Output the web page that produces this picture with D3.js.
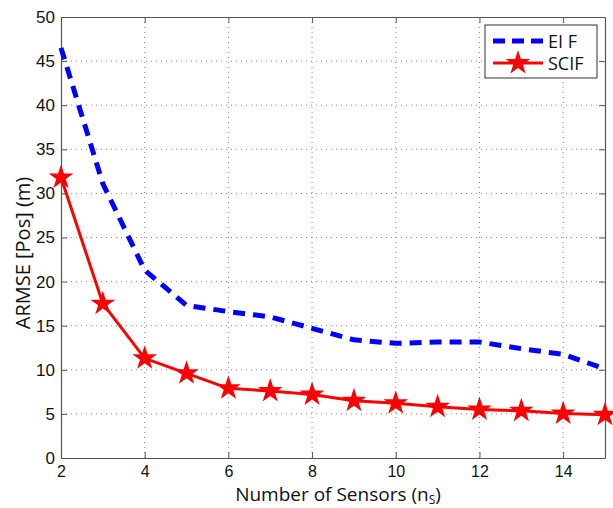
<!DOCTYPE html>
<html>
<head>
<meta charset="utf-8">
<script src="https://cdn.jsdelivr.net/npm/d3@7"></script>
<style>
  body { margin: 0; background: #fff; }
  svg { display: block; }
</style>
</head>
<body>
<div id="graph"></div>
<script>
const width = 613, height = 508;
const margin = {top: 17, right: 8, bottom: 50, left: 61};

const sensors = [2, 3, 4, 5, 6, 7, 8, 9, 10, 11, 12, 13, 14, 15];
const eifValues = [46.5, 31.1, 21.3, 17.3, 16.6, 16.0, 14.7, 13.4, 13.0, 13.15, 13.15, 12.4, 11.75, 10.1];
const scifValues = [31.8, 17.5, 11.3, 9.6, 7.9, 7.6, 7.2, 6.5, 6.2, 5.8, 5.5, 5.35, 5.05, 4.9];
const xTicks = [2, 4, 6, 8, 10, 12, 14];
const yTicks = [0, 5, 10, 15, 20, 25, 30, 35, 40, 45, 50];

const x = d3.scaleLinear().domain([2, 15]).range([margin.left, width - margin.right]);
const y = d3.scaleLinear().domain([0, 50]).range([height - margin.bottom, margin.top]);

const svg = d3.select("#graph")
  .append("svg")
  .attr("width", width)
  .attr("height", height)
  .style("font-family", "'Open Sans', sans-serif");

const axisColor = "#555";

// grid
svg.append("g").selectAll("line")
  .data(xTicks.slice(1))
  .join("line")
  .attr("x1", d => x(d)).attr("x2", d => x(d))
  .attr("y1", y(0)).attr("y2", y(50))
  .attr("stroke", "#888").attr("stroke-width", 1)
  .attr("stroke-dasharray", "1,4");
svg.append("g").selectAll("line")
  .data(yTicks.slice(1, -1))
  .join("line")
  .attr("x1", x(2)).attr("x2", x(15))
  .attr("y1", d => y(d)).attr("y2", d => y(d))
  .attr("stroke", "#888").attr("stroke-width", 1)
  .attr("stroke-dasharray", "1,4");

// axes (ticks inside, MATLAB style)
const xAxis = svg.append("g")
  .attr("transform", `translate(0,${y(0)})`)
  .call(d3.axisBottom(x).tickValues(xTicks).tickSizeInner(-6).tickSizeOuter(0).tickPadding(8));
const xTop = svg.append("g")
  .attr("transform", `translate(0,${y(50)})`)
  .call(d3.axisTop(x).tickValues(xTicks).tickSizeInner(-6).tickSizeOuter(0).tickFormat(""));
const yAxis = svg.append("g")
  .attr("transform", `translate(${x(2)},0)`)
  .call(d3.axisLeft(y).tickValues(yTicks).tickSizeInner(-6).tickSizeOuter(0).tickPadding(6));
const yRight = svg.append("g")
  .attr("transform", `translate(${x(15)},0)`)
  .call(d3.axisRight(y).tickValues(yTicks).tickSizeInner(-6).tickSizeOuter(0).tickFormat(""));

[xAxis, xTop, yAxis, yRight].forEach(g => {
  g.selectAll("path").attr("stroke", axisColor).attr("stroke-width", 1.2);
  g.selectAll("line").attr("stroke", axisColor);
  g.selectAll("text").attr("fill", "#111").style("font-size", "17px");
});
xAxis.selectAll("text").style("font-size", "16px");

// lines
const line = (vals) => d3.line()
  .x((d, i) => x(sensors[i]))
  .y(d => y(d))(vals);

svg.append("path")
  .attr("d", line(eifValues))
  .attr("fill", "none")
  .attr("stroke", "#0000ff")
  .attr("stroke-width", 5)
  .attr("stroke-dasharray", "12,8");

svg.append("path")
  .attr("d", line(scifValues))
  .attr("fill", "none")
  .attr("stroke", "#ff0000")
  .attr("stroke-width", 3);

const star = d3.symbol().type(d3.symbolStar).size(190);
svg.append("g").selectAll("path")
  .data(scifValues)
  .join("path")
  .attr("d", star)
  .attr("transform", (d, i) => `translate(${x(sensors[i])},${y(d)})`)
  .attr("fill", "#ff0000");

// axis labels
const xl = svg.append("text")
  .attr("x", 338)
  .attr("y", 501)
  .attr("text-anchor", "middle")
  .style("font-size", "19px")
  .attr("fill", "#111");
xl.append("tspan").text("Number of Sensors (n");
xl.append("tspan").attr("dy", 3).style("font-size", "12px").text("S");
xl.append("tspan").attr("dy", -3).text(")");

svg.append("text")
  .attr("transform", `translate(30,253) rotate(-90)`)
  .attr("text-anchor", "middle")
  .style("font-size", "20px")
  .attr("fill", "#111")
  .text("ARMSE [Pos] (m)");

// legend
const legend = svg.append("g").attr("transform", "translate(485,25)");
legend.append("rect")
  .attr("width", 112).attr("height", 53)
  .attr("fill", "#fff").attr("stroke", "#333").attr("stroke-width", 1);
legend.append("line")
  .attr("x1", 8).attr("x2", 58).attr("y1", 16).attr("y2", 16)
  .attr("stroke", "#0000ff").attr("stroke-width", 5).attr("stroke-dasharray", "12,7");
legend.append("line")
  .attr("x1", 8).attr("x2", 58).attr("y1", 38).attr("y2", 38)
  .attr("stroke", "#ff0000").attr("stroke-width", 3);
legend.append("path")
  .attr("d", star)
  .attr("transform", "translate(33,38)")
  .attr("fill", "#ff0000");
legend.selectAll("text.lab")
  .data(["EI F", "SCIF"])
  .join("text")
  .attr("x", 63)
  .attr("y", (d, i) => 23 + i * 22)
  .style("font-size", "18px")
  .attr("fill", "#111")
  .text(d => d);
</script>
</body>
</html>
